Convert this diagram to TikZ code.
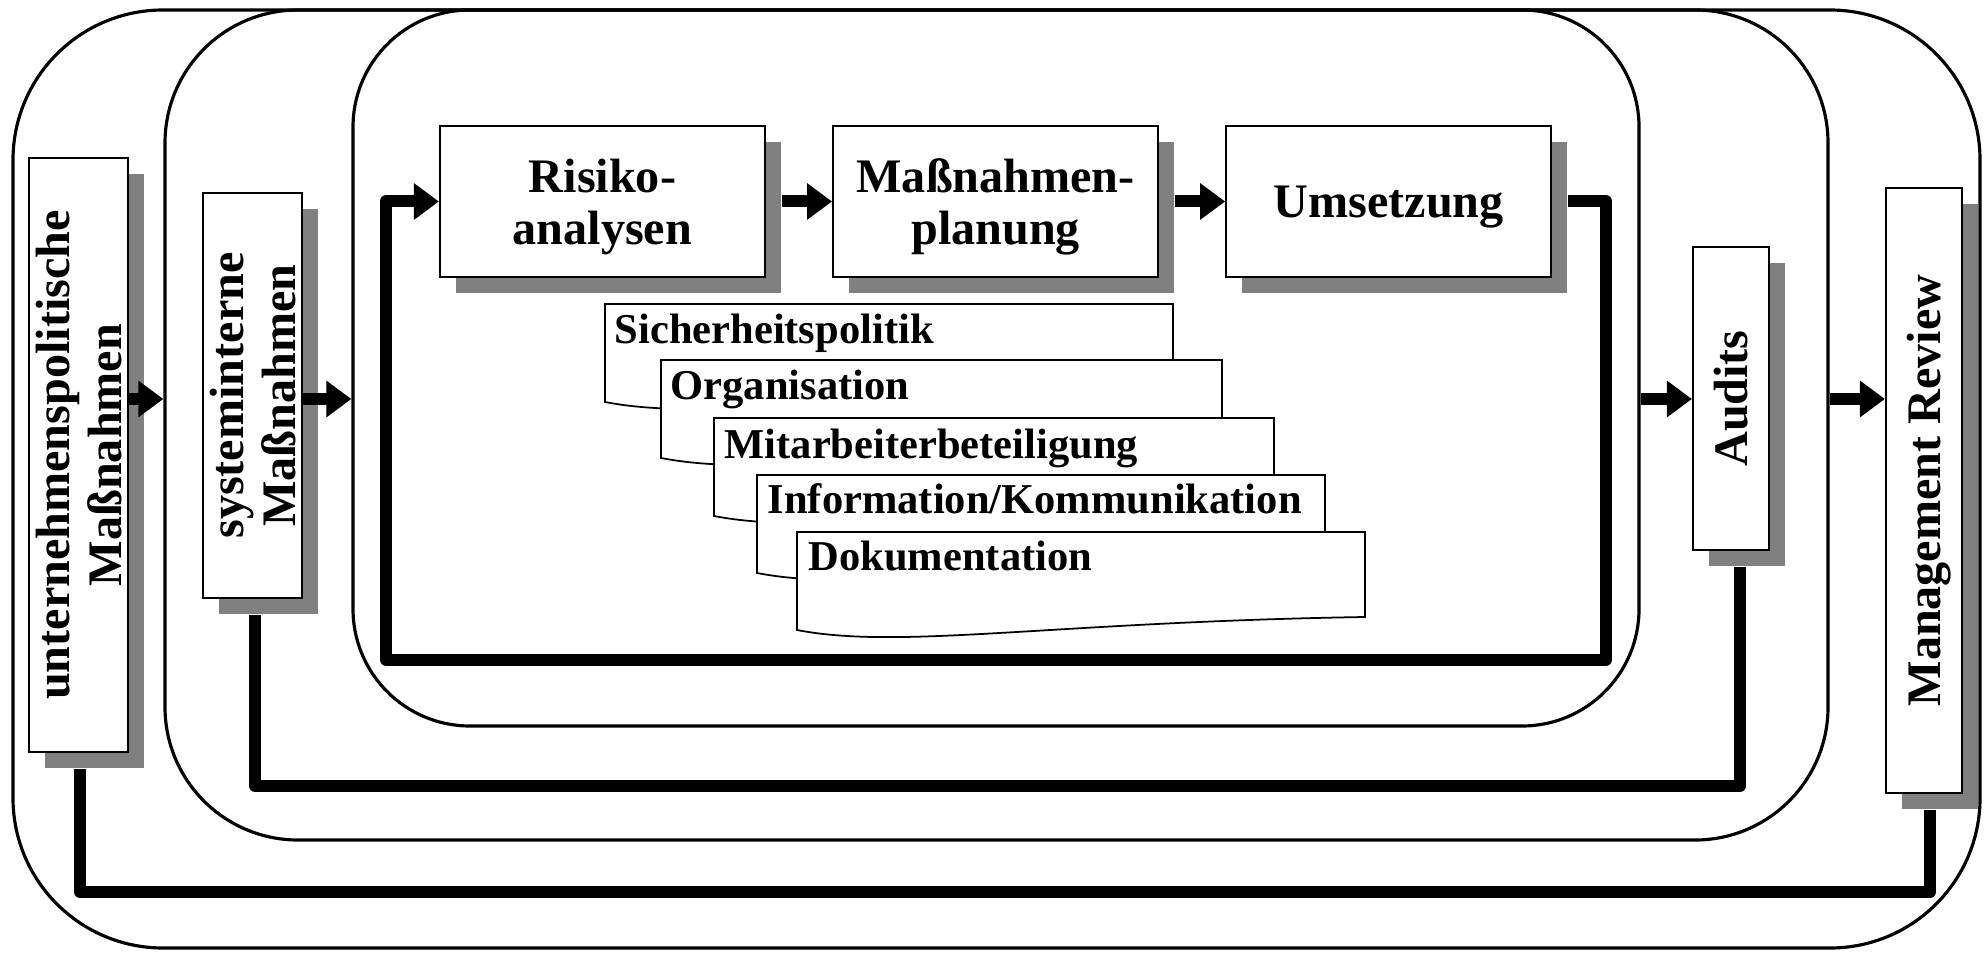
\documentclass[tikz,border=0pt]{standalone}
\usepackage{fontspec}
\setmainfont{Liberation Serif}
\usetikzlibrary{positioning, shadows, arrows.meta}

\begin{document}
\begin{tikzpicture}[
			 ebene/.style={draw, line width=0.9pt, inner sep=0pt},
			 kasten/.style={draw, line width=0.6pt, fill=white, inner sep=0pt,
			   drop shadow={shadow xshift=0.16cm, shadow yshift=-0.16cm, fill=gray, opacity=1}},
			 schrift/.style={font=\fontsize{13.7}{14.8}\selectfont\bfseries, text depth=0pt},
			 schritt/.style={kasten, schrift, minimum width=3.25cm, minimum height=1.51cm, align=center},
			 hochtext/.style={schrift, rotate=90, align=center, inner sep=0pt},
			 seite/.style={draw, line width=0.5pt, fill=white},
			 seitentext/.style={anchor=base west, inner sep=0pt, font=\fontsize{12.1}{14}\selectfont\bfseries},
			 pfeil/.style={line width=0.12cm, -{Triangle[length=0.25cm, width=0.35cm]}},
			 rueck/.style={line width=0.12cm, line join=round, shorten <=0.16cm, shorten >=0.16cm}
  		]
	\useasboundingbox (0,0) rectangle (19.84,9.52);

	%Die drei Ebenen
		\node[ebene, rounded corners=1.5cm, minimum width=19.67cm, minimum height=9.38cm] (e1) at (9.965,4.73) {};
		\node[ebene, rounded corners=1.33cm, minimum width=16.63cm, minimum height=8.30cm] (e2) at (9.965,5.27) {};
		\node[ebene, rounded corners=1.17cm, minimum width=12.86cm, minimum height=7.16cm] (e3) at (9.96,5.84) {};

	%Kaesten links und rechts
		\node[kasten, minimum width=0.99cm, minimum height=5.94cm] (U) at (0.785,4.97) {};
		\node[hochtext] (Ut) at (U) {unternehmenspolitische\\Maßnahmen};
		\node[kasten, minimum width=0.99cm, minimum height=4.05cm] (S) at (2.525,5.565) {};
		\node[hochtext] (St) at (S) {systeminterne\\Maßnahmen};
		\node[kasten, minimum width=0.76cm, minimum height=3.03cm] (A) at (17.31,5.535) {};
		\node[hochtext] (At) at (A) {Audits};
		\node[kasten, minimum width=0.76cm, minimum height=6.05cm] (MR) at (19.24,4.615) {};
		\node[hochtext] (MRt) at (MR) {Management Review};

	%Kreislauf innen
		\node[schritt] (R) at (6.025,7.505) {Risiko-\\analysen};
		\node[schritt, right=0.66cm of R] (M) {Maßnahmen-\\planung};
		\node[schritt, right=0.66cm of M] (Um) {Umsetzung};

	%Dokumente
		\draw[seite, shift={(6.05,6.48)}] (0,0) -- (5.68,0) -- (5.68,-0.85) .. controls (2.53,-0.90) and (1.03,-1.18) .. (0,-0.98) -- cycle;
		\node[seitentext] (d1) at (6.14,6.08) {Sicherheitspolitik};
		\draw[seite, shift={(6.61,5.92)}] (0,0) -- (5.61,0) -- (5.61,-0.85) .. controls (2.46,-0.90) and (1.03,-1.18) .. (0,-0.98) -- cycle;
		\node[seitentext] (d2) at (6.70,5.52) {Organisation};
		\draw[seite, shift={(7.14,5.34)}] (0,0) -- (5.60,0) -- (5.60,-0.85) .. controls (2.45,-0.90) and (1.03,-1.18) .. (0,-0.98) -- cycle;
		\node[seitentext] (d3) at (7.24,4.94) {Mitarbeiterbeteiligung};
		\draw[seite, shift={(7.57,4.77)}] (0,0) -- (5.68,0) -- (5.68,-0.85) .. controls (2.53,-0.90) and (1.03,-1.18) .. (0,-0.98) -- cycle;
		\node[seitentext] (d4) at (7.67,4.39) {Information/Kommunikation};
		\draw[seite, shift={(7.97,4.20)}] (0,0) -- (5.68,0) -- (5.68,-0.85) .. controls (2.53,-0.90) and (1.03,-1.18) .. (0,-0.98) -- cycle;
		\node[seitentext] (d5) at (8.08,3.82) {Dokumentation};

	%Hilfspunkte
		\coordinate (h) at (0,5.53);
		\coordinate (k1) at (16.06,2.925);
		\coordinate (k2) at (3.86,2.925);
		\coordinate (a1) at (17.40,1.66);
		\coordinate (a2) at (2.55,1.66);
		\coordinate (m1) at (19.30,0.60);
		\coordinate (m2) at (0.80,0.60);

	%Pfeile
		\draw[pfeil] (U.east |- h) -- (e2.west |- h);
		\draw[pfeil] (S.east |- h) -- (e3.west |- h);
		\draw[pfeil] (e3.east |- h) -- (A.west |- h);
		\draw[pfeil] (e2.east |- h) -- (MR.west |- h);
		\draw[pfeil, shorten <=0.16cm] (R) -- (M);
		\draw[pfeil, shorten <=0.16cm] (M) -- (Um);
		\draw[pfeil, line join=round, shorten <=0.16cm] (Um.east) -| (k1) -- (k2) |- (R.west);

	%Rueckkopplung
		\draw[rueck] (a1 |- A.south) -- (a1) -- (a2) -- (a2 |- S.south);
		\draw[rueck] (m1 |- MR.south) -- (m1) -- (m2) -- (m2 |- U.south);
\end{tikzpicture}
\end{document}
